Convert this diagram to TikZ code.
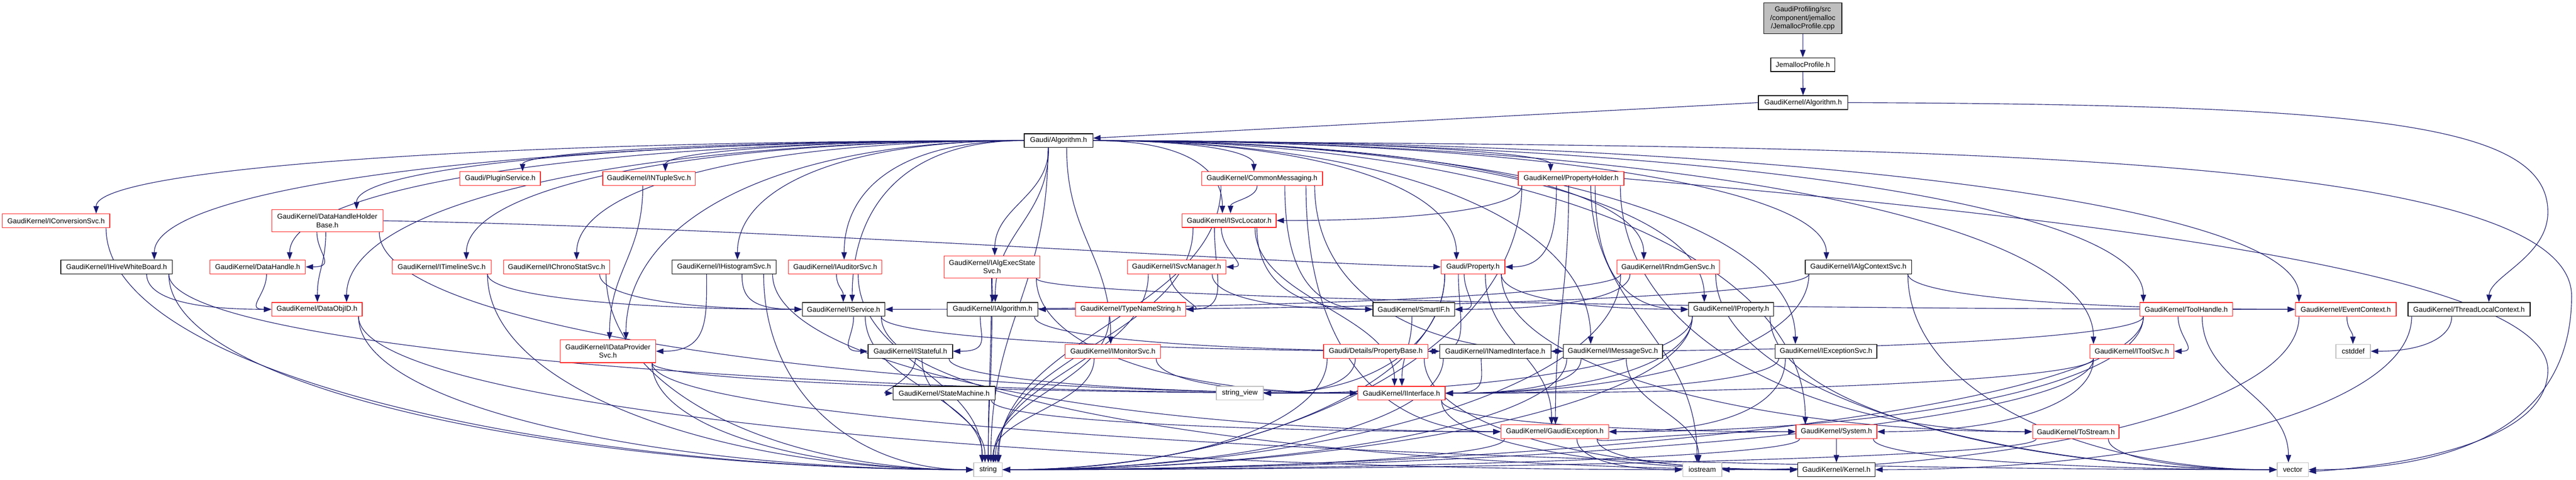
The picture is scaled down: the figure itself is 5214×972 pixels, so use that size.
\documentclass[tikz,border=0pt]{standalone}
\usepackage{fontspec}
\setmainfont{Liberation Sans}
\usetikzlibrary{arrows.meta}
\pgfdeclarelayer{bg}
\pgfdeclarelayer{paper}
\pgfsetlayers{paper,bg,main}
\definecolor{edgec}{HTML}{191970}
\definecolor{redb}{HTML}{FF2020}
\definecolor{grayb}{HTML}{BFBFBF}
\newdimen\Xa \newdimen\Ya \newdimen\Xb \newdimen\Yb
\newdimen\Ea \newdimen\Eb \newdimen\Sa \newdimen\Nb
\newcommand\getc[2]{%
 \pgfextractx{\Xa}{\pgfpointanchor{#1}{center}}%
 \pgfextracty{\Ya}{\pgfpointanchor{#1}{south}}%
 \pgfextractx{\Ea}{\pgfpointanchor{#1}{east}}%
 \pgfextracty{\Sa}{\pgfpointanchor{#1}{center}}%
 \pgfextractx{\Xb}{\pgfpointanchor{#2}{center}}%
 \pgfextracty{\Yb}{\pgfpointanchor{#2}{north}}%
 \pgfextractx{\Eb}{\pgfpointanchor{#2}{east}}%
 \pgfextracty{\Nb}{\pgfpointanchor{#2}{center}}%
 \pgfmathsetmacro\Ghwa{max(\Ea-\Xa-8,0)}%
 \pgfmathsetmacro\Ghwb{max(\Eb-\Xb-8,0)}%
 \pgfmathsetmacro\Gdx{\Xb-\Xa}%
 \pgfmathsetmacro\Gdy{\Ya-\Yb}%
}
\newcommand\drawN[2]{%
 \pgfmathsetmacro\Gsa{max(-\Ghwa,min(\Ghwa,0.15*\Gdx))}%
 \pgfmathsetmacro\Gsb{max(-\Ghwb,min(\Ghwb,-0.04*\Gdx))}%
 \pgfmathsetmacro\Gk{max(0.45*\Gdy,12)}%
 \draw[lnk] ([xshift=\Gsa pt]#1.south) .. controls +(0pt,-\Gk pt) and +(0pt,\Gk pt) .. ([xshift=\Gsb pt]#2.north);}
\newcommand\drawI[2]{%
 \pgfmathsetmacro\Gsa{max(-\Ghwa,min(\Ghwa,0.15*\Gdx))}%
 \pgfmathsetmacro\Gk{max(0.6*(\Ya-\Nb),12)}%
 \pgfmathsetmacro\Gh{0.45*abs(\Gdx)}%
 \ifdim\Xb>\Xa
  \draw[lnk] ([xshift=\Gsa pt]#1.south) .. controls +(0pt,-\Gk pt) and +(-\Gh pt,0pt) .. (#2.west);%
 \else
  \draw[lnk] ([xshift=\Gsa pt]#1.south) .. controls +(0pt,-\Gk pt) and +(\Gh pt,0pt) .. (#2.east);%
 \fi}
\newcommand\A[2]{\getc{#1}{#2}%
 \pgfmathsetmacro\Gc{abs(\Gdx)<1.2*\Gdy ? 1 : 0}%
 \ifdim\Gc pt>0.5pt \drawN{#1}{#2}\else\drawI{#1}{#2}\fi}
\newcommand\Es[2]{\getc{#1}{#2}%
 \pgfmathsetmacro\Gk{max(0.6*(\Sa-\Yb),12)}%
 \pgfmathsetmacro\Gh{0.55*abs(\Gdx)}%
 \pgfmathsetmacro\Gsb{max(-\Ghwb,min(\Ghwb,-0.04*\Gdx))}%
 \ifdim\Xb>\Xa
  \draw[lnk] (#1.east) .. controls +(\Gh pt,0pt) and +(0pt,\Gk pt) .. ([xshift=\Gsb pt]#2.north);%
 \else
  \draw[lnk] (#1.west) .. controls +(-\Gh pt,0pt) and +(0pt,\Gk pt) .. ([xshift=\Gsb pt]#2.north);%
 \fi}
\begin{document}
\begin{tikzpicture}[x=1pt,y=-1pt,
 nbase/.style={rectangle, inner sep=0pt, minimum height=28pt, fill=white,
   font=\fontsize{14.4pt}{17pt}\selectfont, align=center, line width=1.4pt},
 bk/.style={nbase, draw=black},
 rd/.style={nbase, draw=redb},
 gy/.style={nbase, draw=grayb},
 topn/.style={nbase, draw=black, fill=grayb},
 lnk/.style={draw=edgec, line width=1.2pt, -{Triangle[length=15pt,width=11pt]}}]
\useasboundingbox (0,0) rectangle (5214,972);
\begin{pgfonlayer}{paper}
\fill[white] (0,0) rectangle (5214,972);
\end{pgfonlayer}
% nodes
\node[topn, minimum width=158pt, minimum height=62pt] (cpp) at (3649,37) {GaudiProfiling/src\\/component/jemalloc\\/JemallocProfile.cpp};
\node[bk, minimum width=130pt] (jph) at (3649,131) {JemallocProfile.h};
\node[bk, minimum width=181pt] (gka) at (3649.5,208) {GaudiKernel/Algorithm.h};
\node[bk, minimum width=139pt] (hub) at (2142.5,285) {Gaudi/Algorithm.h};
\node[rd, minimum width=163pt] (plg) at (1012.5,362) {Gaudi/PluginService.h};
\node[rd, minimum width=187pt] (ntup) at (1313.5,362) {GaudiKernel/INTupleSvc.h};
\node[rd, minimum width=245pt] (cmsg) at (2554.5,362) {GaudiKernel/CommonMessaging.h};
\node[rd, minimum width=214pt] (phold) at (3180,362) {GaudiKernel/PropertyHolder.h};
\node[rd, minimum width=217pt] (iconv) at (113.5,447.5) {GaudiKernel/IConversionSvc.h};
\node[rd, minimum width=225pt, minimum height=45pt] (dhhb) at (662.5,447.5) {GaudiKernel/DataHandleHolder\\Base.h};
\node[rd, minimum width=190pt] (isl) at (2488,447) {GaudiKernel/ISvcLocator.h};
\node[bk, minimum width=226pt] (ihwb) at (236,541) {GaudiKernel/IHiveWhiteBoard.h};
\node[rd, minimum width=193pt] (dh) at (521.5,541) {GaudiKernel/DataHandle.h};
\node[rd, minimum width=200pt] (itl) at (894,541) {GaudiKernel/ITimelineSvc.h};
\node[rd, minimum width=215pt] (ics) at (1126.5,541) {GaudiKernel/IChronoStatSvc.h};
\node[bk, minimum width=211pt] (ihs) at (1465.5,541) {GaudiKernel/IHistogramSvc.h};
\node[rd, minimum width=189pt] (ias) at (1690.5,541) {GaudiKernel/IAuditorSvc.h};
\node[rd, minimum width=194pt, minimum height=45pt] (iaes) at (2008,541) {GaudiKernel/IAlgExecState\\Svc.h};
\node[rd, minimum width=199pt] (ism) at (2381.5,541) {GaudiKernel/ISvcManager.h};
\node[rd, minimum width=129pt] (prop) at (2981.5,541) {Gaudi/Property.h};
\node[rd, minimum width=207pt] (irnd) at (3376.5,541) {GaudiKernel/IRndmGenSvc.h};
\node[bk, minimum width=215pt] (iacs) at (3761.5,541) {GaudiKernel/IAlgContextSvc.h};
\node[rd, minimum width=183pt] (doid) at (641.5,627) {GaudiKernel/DataObjID.h};
\node[bk, minimum width=167pt] (isvc) at (1707.5,627) {GaudiKernel/IService.h};
\node[bk, minimum width=184pt] (ialg) at (2009,627) {GaudiKernel/IAlgorithm.h};
\node[rd, minimum width=223pt] (tns) at (2288.5,627) {GaudiKernel/TypeNameString.h};
\node[bk, minimum width=165pt] (sif) at (2861.5,627) {GaudiKernel/SmartIF.h};
\node[bk, minimum width=172pt] (iprop) at (3504,627) {GaudiKernel/IProperty.h};
\node[rd, minimum width=188pt] (th) at (4425,627) {GaudiKernel/ToolHandle.h};
\node[rd, minimum width=204pt] (ec) at (4748,627) {GaudiKernel/EventContext.h};
\node[bk, minimum width=247pt] (tlc) at (4997.5,627) {GaudiKernel/ThreadLocalContext.h};
\node[rd, minimum width=193pt, minimum height=46pt] (idp) at (1230.5,712) {GaudiKernel/IDataProvider\\Svc.h};
\node[bk, minimum width=171pt] (istf) at (1842.5,712) {GaudiKernel/IStateful.h};
\node[rd, minimum width=193pt] (imon) at (2252.5,712) {GaudiKernel/IMonitorSvc.h};
\node[rd, minimum width=211pt] (pbase) at (2784.5,712) {Gaudi/Details/PropertyBase.h};
\node[bk, minimum width=225pt] (inam) at (3026.5,712) {GaudiKernel/INamedInterface.h};
\node[bk, minimum width=201pt] (imsg) at (3264.5,712) {GaudiKernel/IMessageSvc.h};
\node[bk, minimum width=206pt] (iexc) at (3696,712) {GaudiKernel/IExceptionSvc.h};
\node[rd, minimum width=170pt] (itool) at (4315,712) {GaudiKernel/IToolSvc.h};
\node[gy, minimum width=70pt] (cstd) at (4763,712) {cstddef};
\node[bk, minimum width=206pt] (stm) at (1911,797) {GaudiKernel/StateMachine.h};
\node[gy, minimum width=95pt] (sv) at (2509.5,797) {string\_view};
\node[rd, minimum width=177pt] (iint) at (2836.5,797) {GaudiKernel/IInterface.h};
\node[rd, minimum width=218pt] (gexc) at (3147,875) {GaudiKernel/GaudiException.h};
\node[rd, minimum width=164pt] (sys) at (3717,875) {GaudiKernel/System.h};
\node[rd, minimum width=175pt] (tos) at (4201.5,875) {GaudiKernel/ToStream.h};
\node[gy, minimum width=58pt] (str) at (2000,952) {string};
\node[gy, minimum width=79pt] (ios) at (3445.5,952) {iostream};
\node[bk, minimum width=156pt] (ker) at (3717,952) {GaudiKernel/Kernel.h};
\node[gy, minimum width=63pt] (vec) at (4640.5,952) {vector};
% edges
\begin{pgfonlayer}{bg}
\A{cpp}{jph} \A{jph}{gka}
\draw[lnk] (gka.west) -- ([yshift=5pt]hub.east);
\draw[lnk] (gka.east) .. controls (4800,212) and (5157,250) .. (5157,430) .. controls (5157,520) and (5040,560) .. ([xshift=40pt]tlc.north);
\Es{hub}{iconv} \Es{hub}{ihwb} \Es{hub}{doid} \Es{hub}{dh} \Es{hub}{dhhb}
\Es{hub}{plg} \Es{hub}{ntup} \Es{hub}{itl} \Es{hub}{ics} \Es{hub}{ihs}
\Es{hub}{ias} \Es{hub}{isvc} \Es{hub}{idp}
\A{hub}{iaes} \A{hub}{ialg} \A{hub}{imon} \A{hub}{str}
\Es{hub}{cmsg} \Es{hub}{isl} \Es{hub}{prop} \Es{hub}{phold} \Es{hub}{irnd}
\Es{hub}{iacs} \Es{hub}{iprop} \Es{hub}{iexc} \Es{hub}{imsg} \Es{hub}{sys}
\Es{hub}{th} \Es{hub}{ec} \Es{hub}{itool}
\draw[lnk] (hub.east) .. controls (3600,300) and (5205,280) .. (5205,600) .. controls (5205,900) and (4900,952) .. (vec.east);
\draw[lnk] (dhhb.east) .. controls (1500,460) and (2500,530) .. (prop.west);
\A{dhhb}{dh} \A{dhhb}{doid} \A{dhhb}{iint}
\A{dh}{doid}
\A{ihwb}{doid} \A{ihwb}{str} \A{ihwb}{iint}
\A{iconv}{str}
\A{doid}{str} \A{doid}{ios}
\A{ntup}{idp}
\A{idp}{iint} \A{idp}{str} \A{idp}{vec}
\A{itl}{isvc} \A{itl}{str}
\A{ics}{isvc} \A{ics}{str}
\A{ihs}{idp} \A{ihs}{isvc} \A{ihs}{str} \A{ihs}{gexc}
\A{ias}{isvc} \A{ias}{str}
\A{iaes}{ialg} \A{iaes}{iint} \A{iaes}{str} \A{iaes}{ec}
\A{isvc}{istf} \A{isvc}{inam} \A{isvc}{ker} \A{isvc}{str}
\A{ialg}{istf} \A{ialg}{inam} \A{ialg}{str}
\A{istf}{stm} \A{istf}{iint} \A{istf}{str}
\A{stm}{gexc}
\A{cmsg}{isl} \A{cmsg}{imsg} \A{cmsg}{sif} \A{cmsg}{gexc} \A{cmsg}{str}
\A{isl}{ism} \A{isl}{tns} \A{isl}{sif} \A{isl}{iint} \A{isl}{str}
\A{ism}{tns} \A{ism}{sif} \A{ism}{str}
\A{tns}{str}
\A{prop}{pbase} \A{prop}{iprop} \A{prop}{sif} \A{prop}{sv} \A{prop}{str} \A{prop}{gexc} \A{prop}{tos}
\A{phold}{isl} \A{phold}{prop} \A{phold}{iprop} \A{phold}{gexc} \A{phold}{ios} \A{phold}{str} \A{phold}{tos}
\draw[lnk] (phold.east) .. controls (4300,450) and (5157,560) .. (5157,750) .. controls (5157,900) and (4850,945) .. ([yshift=-4pt]vec.east);
\A{pbase}{sv} \A{pbase}{str} \A{pbase}{ker}
\A{inam}{iint} \A{inam}{str}
\A{sif}{iint}
\A{iprop}{iint} \A{iprop}{str} \A{iprop}{sv} \A{iprop}{vec}
\A{imsg}{iint} \A{imsg}{str} \A{imsg}{ios}
\A{iexc}{iint} \A{iexc}{gexc}
\A{iacs}{ialg} \A{iacs}{iint} \A{iacs}{vec} \A{iacs}{ec}
\A{irnd}{isvc} \A{irnd}{sif} \A{irnd}{str} \A{irnd}{vec}
\A{imon}{iint} \A{imon}{str}
\A{iint}{sys} \A{iint}{ker}
\A{gexc}{ker} \A{gexc}{sys} \A{gexc}{ios} \A{gexc}{str}
\A{sys}{ker} \A{sys}{str} \A{sys}{vec}
\A{tos}{str} \A{tos}{vec}
\A{th}{itool} \A{th}{gexc} \A{th}{inam} \A{th}{str} \A{th}{vec}
\A{itool}{iint} \A{itool}{sys} \A{itool}{str}
\A{ec}{cstd} \A{ec}{ios}
\A{tlc}{cstd} \A{tlc}{ker}
\end{pgfonlayer}
\end{tikzpicture}
\end{document}
